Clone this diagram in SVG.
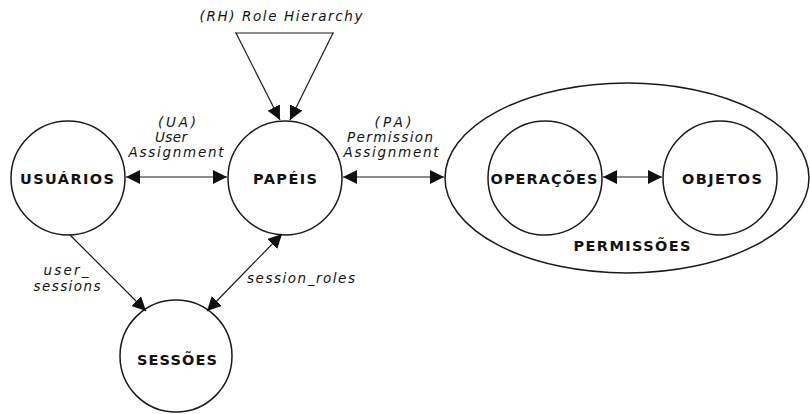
<svg xmlns="http://www.w3.org/2000/svg" width="810" height="414" viewBox="0 0 810 414">
  <style>
    .node { fill: #ffffff; stroke: #1a1a1a; stroke-width: 1.5; }
    .edge { fill: none; stroke: #1a1a1a; stroke-width: 1.2; }
    .title { font-family: "DejaVu Sans", Verdana, sans-serif; font-weight: bold; font-size: 14.5px; fill: #111; text-anchor: middle; }
    .lbl { font-family: "DejaVu Sans", Verdana, sans-serif; font-style: italic; font-size: 13.5px; fill: #111; text-anchor: middle; }
  </style>
  <defs>
    <marker id="arrow" viewBox="0 0 14 14" refX="14" refY="7" markerWidth="14" markerHeight="14" markerUnits="userSpaceOnUse" orient="auto-start-reverse">
      <path d="M0,0 L14,7 L0,14 z" fill="#111"/>
    </marker>
  </defs>

  <rect width="810" height="414" fill="#ffffff"/>

  <!-- permissions container -->
  <g id="permissoes">
    <ellipse class="node" cx="627" cy="178" rx="182" ry="95"/>
    <text class="title" x="632" y="251" textLength="117" lengthAdjust="spacing">PERMISSÕES</text>
  </g>

  <g id="usuarios">
    <circle class="node" cx="68" cy="178" r="57"/>
    <text class="title" x="67" y="184" textLength="94" lengthAdjust="spacing">USUÁRIOS</text>
  </g>

  <g id="papeis">
    <circle class="node" cx="285" cy="178" r="57"/>
    <text class="title" x="285" y="184" textLength="64" lengthAdjust="spacing">PAPÉIS</text>
  </g>

  <g id="sessoes">
    <circle class="node" cx="176" cy="356" r="56"/>
    <text class="title" x="177" y="365" textLength="80" lengthAdjust="spacing">SESSÕES</text>
  </g>

  <g id="operacoes">
    <circle class="node" cx="545" cy="178" r="57"/>
    <text class="title" x="544" y="184" textLength="107" lengthAdjust="spacing">OPERAÇÕES</text>
  </g>

  <g id="objetos">
    <circle class="node" cx="720" cy="178" r="57"/>
    <text class="title" x="722" y="184" textLength="80" lengthAdjust="spacing">OBJETOS</text>
  </g>

  <!-- connectors -->
  <g id="connectors">
    <path class="edge" d="M126,177 L227,177" marker-start="url(#arrow)" marker-end="url(#arrow)"/>
    <path class="edge" d="M343,177 L444,177" marker-start="url(#arrow)" marker-end="url(#arrow)"/>
    <path class="edge" d="M603,177 L662,177" marker-start="url(#arrow)" marker-end="url(#arrow)"/>
    <path class="edge" d="M235,33 L334,33"/>
    <path class="edge" d="M236,33 L280,120" marker-end="url(#arrow)"/>
    <path class="edge" d="M333,33 L290,120" marker-end="url(#arrow)"/>
    <path class="edge" d="M70,235 L146,311" marker-end="url(#arrow)"/>
    <path class="edge" d="M282,234 L207,311" marker-start="url(#arrow)" marker-end="url(#arrow)"/>
  </g>

  <!-- connector labels -->
  <g id="labels">
    <text class="lbl" x="281" y="21" textLength="163" lengthAdjust="spacing">(RH) Role Hierarchy</text>
    <text class="lbl" x="177" y="127" textLength="38" lengthAdjust="spacing">(UA)</text>
    <text class="lbl" x="171" y="142" textLength="32" lengthAdjust="spacing">User</text>
    <text class="lbl" x="176" y="157" textLength="95" lengthAdjust="spacing">Assignment</text>
    <text class="lbl" x="393" y="127" textLength="37" lengthAdjust="spacing">(PA)</text>
    <text class="lbl" x="390" y="142" textLength="86" lengthAdjust="spacing">Permission</text>
    <text class="lbl" x="391" y="157" textLength="95" lengthAdjust="spacing">Assignment</text>
    <text class="lbl" x="66" y="275" textLength="45" lengthAdjust="spacing">user_</text>
    <text class="lbl" x="67" y="291" textLength="67" lengthAdjust="spacing">sessions</text>
    <text class="lbl" x="301" y="283" textLength="108" lengthAdjust="spacing">session_roles</text>
  </g>
</svg>
